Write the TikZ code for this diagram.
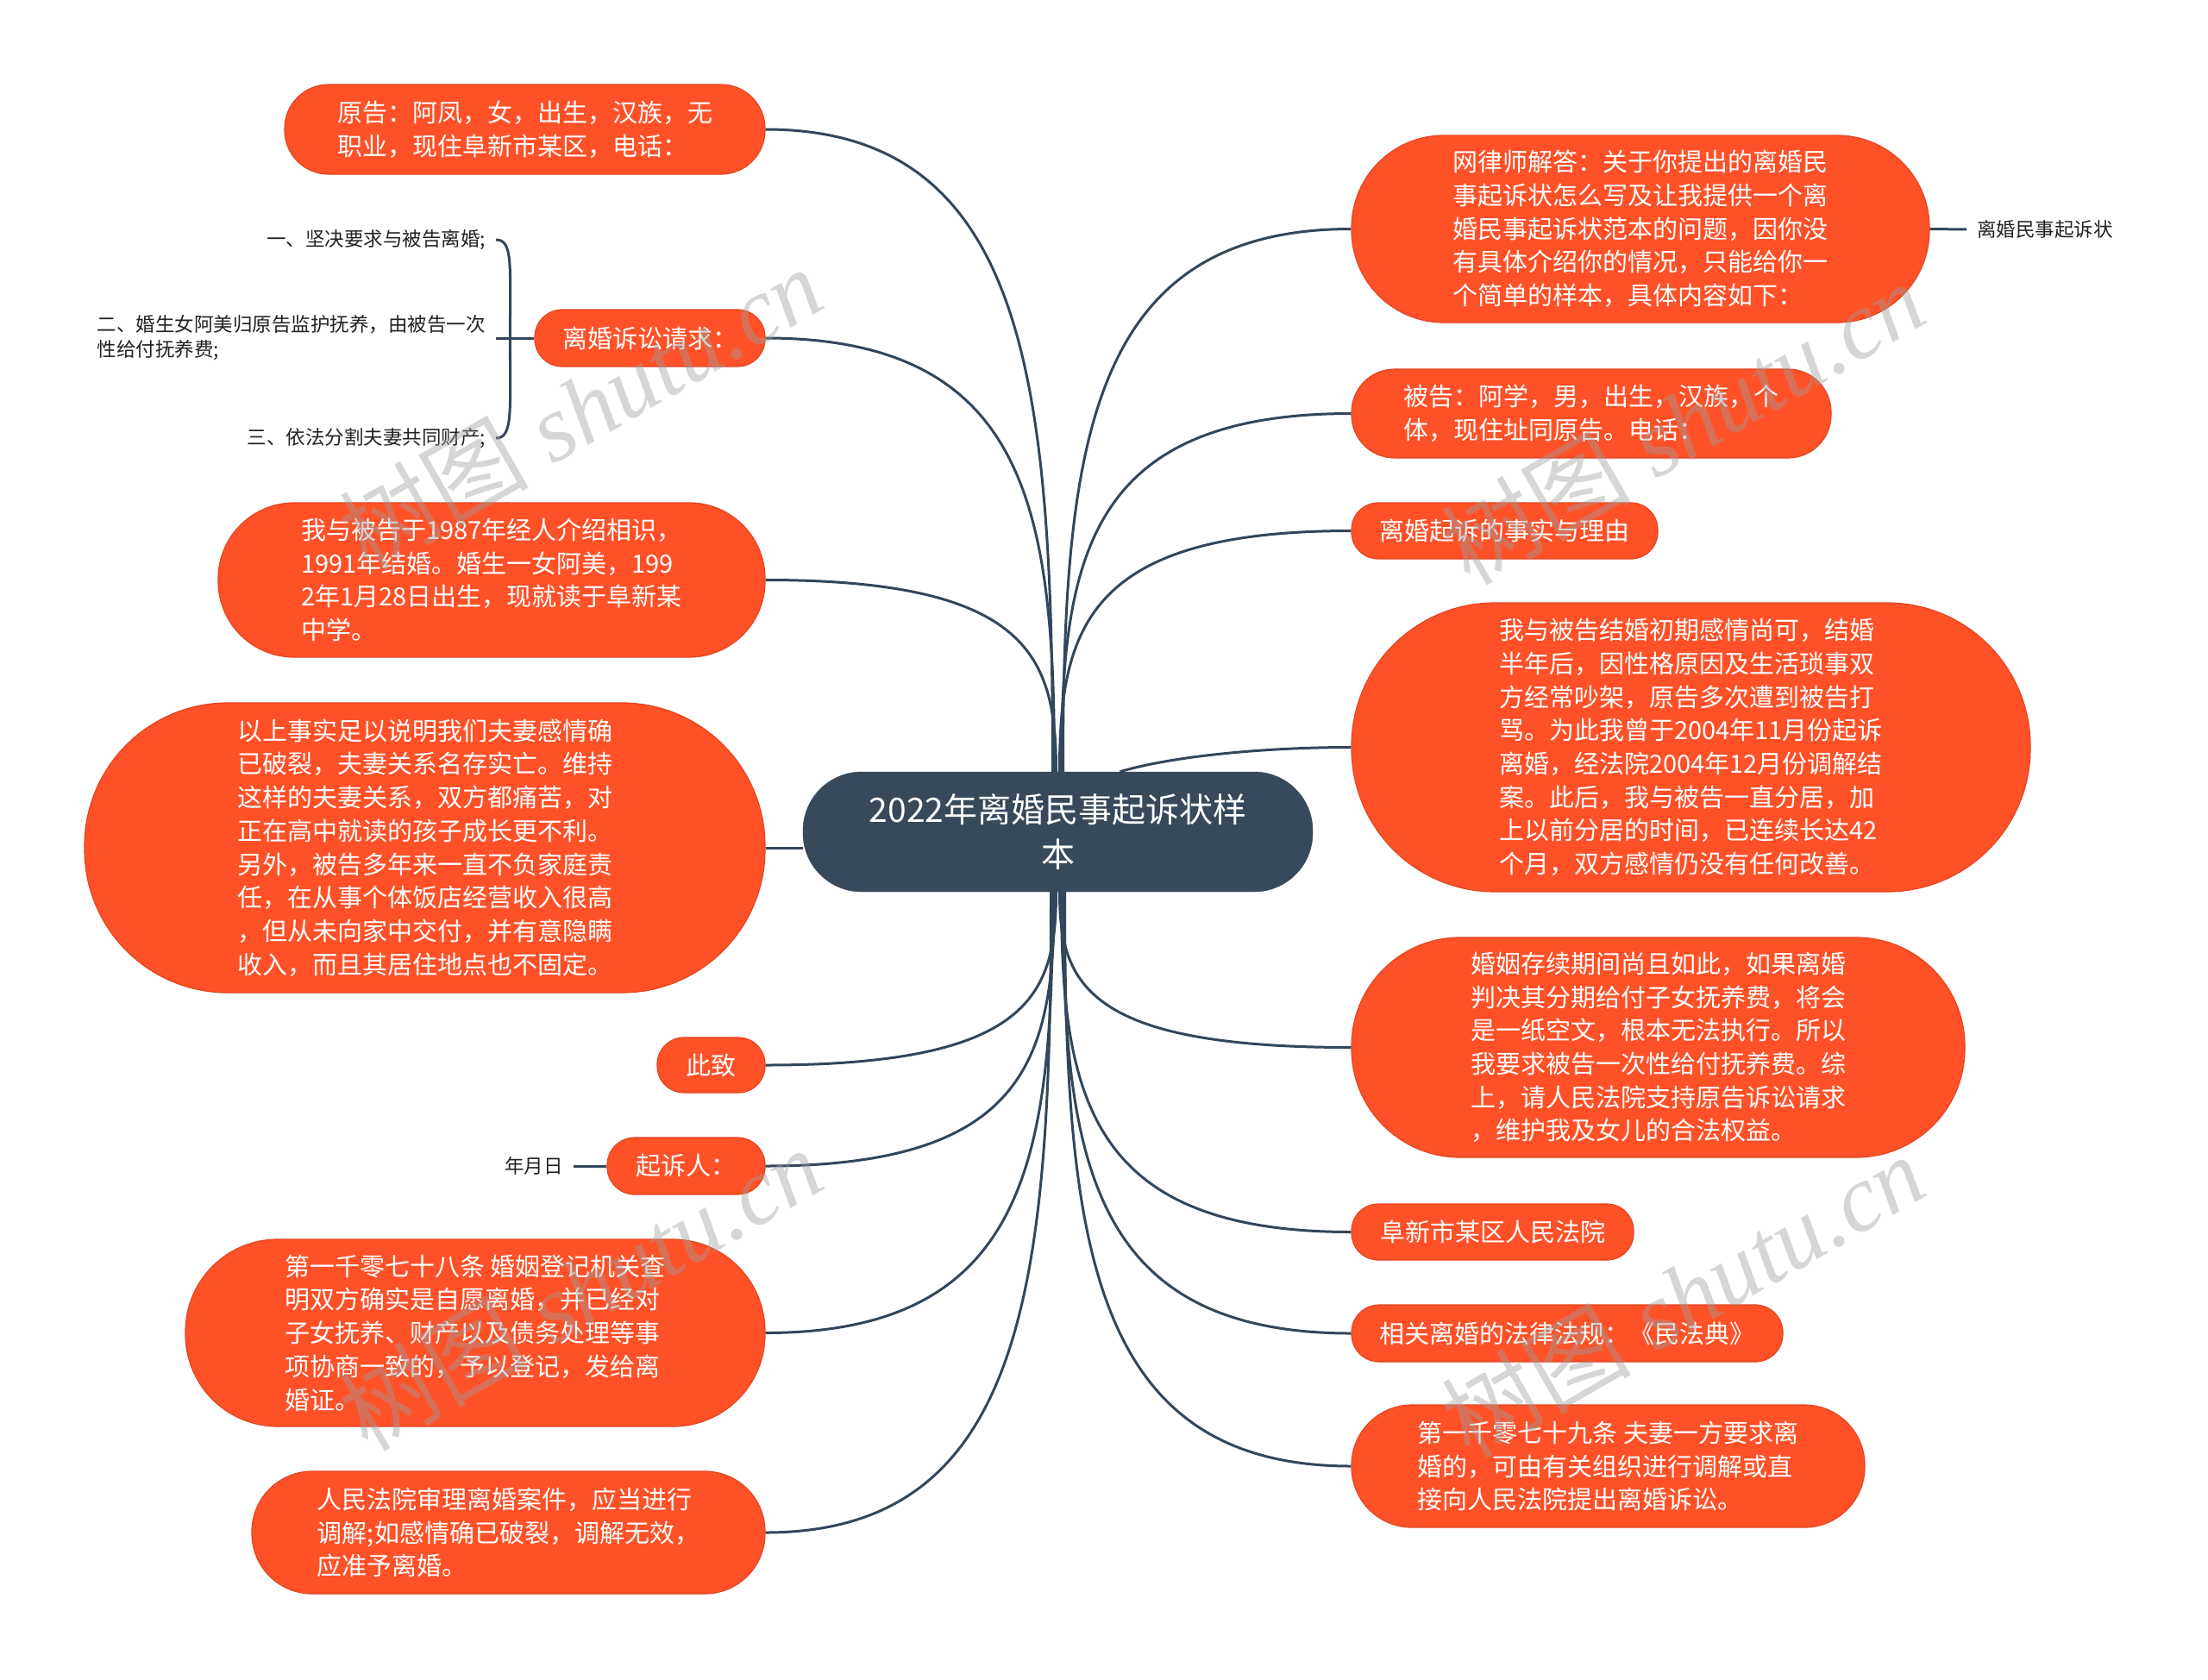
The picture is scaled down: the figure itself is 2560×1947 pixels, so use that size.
\documentclass[tikz,border=0pt]{standalone}
\usepackage{fontspec}
\setmainfont{Noto Sans CJK SC}
\newfontfamily\wmlatin{Liberation Serif}
\definecolor{orng}{HTML}{FE5128}
\definecolor{orngd}{HTML}{E5441F}
\definecolor{navy}{HTML}{37495B}
\definecolor{linec}{HTML}{33465A}
\definecolor{txtc}{HTML}{222222}
\begin{document}
\begin{tikzpicture}[x=1pt,y=-1pt,
  obox/.style={fill=orng, draw=orngd, line width=1.2pt, text=white, inner sep=0pt, align=left, font=\fontsize{29}{38.7}\selectfont},
  cbox/.style={fill=navy, draw=navy, text=white, inner sep=0pt, align=center, font=\fontsize{39}{52}\selectfont},
  stxt/.style={text=txtc, inner xsep=12pt, inner ysep=2pt, align=left, font=\fontsize{22.5}{29}\selectfont},
  edge/.style={draw=linec, line width=3pt},
  wm/.style={text=gray!75, opacity=0.42, inner sep=0pt, font=\fontsize{110}{120}\selectfont}]
\fill[white] (0,0) rectangle (2560,1947);
\useasboundingbox (0,0) rectangle (2560,1947);

% centre
\node[cbox, minimum width=591pt, minimum height=139pt, rounded corners=68pt] (c) at (1226.5,964.5) {2022年离婚民事起诉状样\\本};

% left side
\node[obox, minimum width=557pt, minimum height=104pt, rounded corners=51pt] (L1) at (608.5,150) {原告：阿凤，女，出生，汉族，无\\职业，现住阜新市某区，电话：};
\node[obox, minimum width=267pt, minimum height=66pt, rounded corners=32pt] (L2) at (753.5,392) {离婚诉讼请求：};
\node[obox, minimum width=634pt, minimum height=179pt, rounded corners=88pt] (L3) at (570,672.5) {我与被告于1987年经人介绍相识，\\1991年结婚。婚生一女阿美，199\\2年1月28日出生，现就读于阜新某\\中学。};
\node[obox, minimum width=789pt, minimum height=336pt, rounded corners=166pt] (L4) at (492.5,983) {以上事实足以说明我们夫妻感情确\\已破裂，夫妻关系名存实亡。维持\\这样的夫妻关系，双方都痛苦，对\\正在高中就读的孩子成长更不利。\\另外，被告多年来一直不负家庭责\\任，在从事个体饭店经营收入很高\\，但从未向家中交付，并有意隐瞒\\收入，而且其居住地点也不固定。};
\node[obox, minimum width=125pt, minimum height=64pt, rounded corners=31pt] (L5) at (824.5,1235) {此致};
\node[obox, minimum width=183pt, minimum height=66pt, rounded corners=32pt] (L6) at (795.5,1352) {起诉人：};
\node[obox, minimum width=672pt, minimum height=217pt, rounded corners=107pt] (L7) at (551,1545.5) {第一千零七十八条 婚姻登记机关查\\明双方确实是自愿离婚，并已经对\\子女抚养、财产以及债务处理等事\\项协商一致的，予以登记，发给离\\婚证。};
\node[obox, minimum width=595pt, minimum height=142pt, rounded corners=70pt] (L8) at (589.5,1777) {人民法院审理离婚案件，应当进行\\调解;如感情确已破裂，调解无效，\\应准予离婚。};

% right side
\node[obox, minimum width=670pt, minimum height=217pt, rounded corners=107pt] (R1) at (1902,265.5) {网律师解答：关于你提出的离婚民\\事起诉状怎么写及让我提供一个离\\婚民事起诉状范本的问题，因你没\\有具体介绍你的情况，只能给你一\\个简单的样本，具体内容如下：};
\node[obox, minimum width=556pt, minimum height=103pt, rounded corners=50pt] (R2) at (1845,479.5) {被告：阿学，男，出生，汉族，个\\体，现住址同原告。电话：};
\node[obox, minimum width=355pt, minimum height=65pt, rounded corners=31pt] (R3) at (1744.5,615.5) {离婚起诉的事实与理由};
\node[obox, minimum width=787pt, minimum height=335pt, rounded corners=166pt] (R4) at (1960.5,866.5) {我与被告结婚初期感情尚可，结婚\\半年后，因性格原因及生活琐事双\\方经常吵架，原告多次遭到被告打\\骂。为此我曾于2004年11月份起诉\\离婚，经法院2004年12月份调解结\\案。此后，我与被告一直分居，加\\上以前分居的时间，已连续长达42\\个月，双方感情仍没有任何改善。};
\node[obox, minimum width=711pt, minimum height=255pt, rounded corners=126pt] (R5) at (1922.5,1214.5) {婚姻存续期间尚且如此，如果离婚\\判决其分期给付子女抚养费，将会\\是一纸空文，根本无法执行。所以\\我要求被告一次性给付抚养费。综\\上，请人民法院支持原告诉讼请求\\，维护我及女儿的合法权益。};
\node[obox, minimum width=327pt, minimum height=65pt, rounded corners=31pt] (R6) at (1730.5,1428.5) {阜新市某区人民法院};
\node[obox, minimum width=500pt, minimum height=66pt, rounded corners=32pt] (R7) at (1817,1546) {相关离婚的法律法规：《民法典》};
\node[obox, minimum width=595pt, minimum height=142pt, rounded corners=70pt] (R8) at (1864.5,1700) {第一千零七十九条 夫妻一方要求离\\婚的，可由有关组织进行调解或直\\接向人民法院提出离婚诉讼。};

% small texts
\node[stxt, anchor=east] (r1) at (575,278) {一、坚决要求与被告离婚;};
\node[stxt, anchor=east] (r2) at (575,392) {二、婚生女阿美归原告监护抚养，由被告一次\\性给付抚养费;};
\node[stxt, anchor=east] (r3) at (575,508) {三、依法分割夫妻共同财产;};
\node[stxt, anchor=east] (ymd) at (665,1352) {年月日};
\node[stxt, anchor=west] (rc) at (2280,266) {离婚民事起诉状};

% connectors from the centre
\draw[edge] ([xshift=-6pt]c.north) .. controls +(0,-447) and +(305,0) .. (L1.east);
\draw[edge] ([xshift=-4pt]c.north) .. controls +(0,-302) and +(305,0) .. (L2.east);
\draw[edge] ([xshift=-2pt]c.north) .. controls +(0,-134) and +(305,0) .. (L3.east);
\draw[edge] (L4.east) -- (L4.east -| c.west);
\draw[edge] ([xshift=-2pt]c.south) .. controls +(0,121) and +(305,0) .. (L5.east);
\draw[edge] ([xshift=-4pt]c.south) .. controls +(0,191) and +(305,0) .. (L6.east);
\draw[edge] ([xshift=-6pt]c.south) .. controls +(0,307) and +(305,0) .. (L7.east);
\draw[edge] ([xshift=-8pt]c.south) .. controls +(0,446) and +(305,0) .. (L8.east);

\draw[edge] ([xshift=6pt]c.north) .. controls +(0,-378) and +(-305,0) .. (R1.west);
\draw[edge] ([xshift=4pt]c.north) .. controls +(0,-249) and +(-305,0) .. (R2.west);
\draw[edge] ([xshift=2pt]c.north) .. controls +(0,-168) and +(-305,0) .. (R3.west);
\draw[edge] ([xshift=72pt]c.north) .. controls +(60,-18) and +(-100,0) .. (R4.west);
\draw[edge] ([xshift=2pt]c.south) .. controls +(0,108) and +(-305,0) .. (R5.west);
\draw[edge] ([xshift=4pt]c.south) .. controls +(0,237) and +(-305,0) .. (R6.west);
\draw[edge] ([xshift=6pt]c.south) .. controls +(0,307) and +(-305,0) .. (R7.west);
\draw[edge] ([xshift=8pt]c.south) .. controls +(0,400) and +(-305,0) .. (R8.west);

% sub connectors
\draw[edge] (L2.west) -- ++(-28,0) coordinate (j2);
\draw[edge] (j2) .. controls +(0,-85) and +(20,0) .. (r1.east);
\draw[edge] (j2) -- (r2.east);
\draw[edge] (j2) .. controls +(0,85) and +(20,0) .. (r3.east);
\draw[edge] (L6.west) -- (ymd.east);
\draw[edge] (R1.east) -- (rc.west);

% watermarks
\node[wm, rotate=30] (w1) at (673,473) {树图\hspace{0.25em}{\wmlatin\itshape shutu.cn}};
\node[wm, rotate=30] (w2) at (1951,490) {树图\hspace{0.25em}{\wmlatin\itshape shutu.cn}};
\node[wm, rotate=30] (w3) at (1951,1502) {树图\hspace{0.25em}{\wmlatin\itshape shutu.cn}};
\node[wm, rotate=30] (w4) at (673,1494) {树图\hspace{0.25em}{\wmlatin\itshape shutu.cn}};
\end{tikzpicture}
\end{document}
